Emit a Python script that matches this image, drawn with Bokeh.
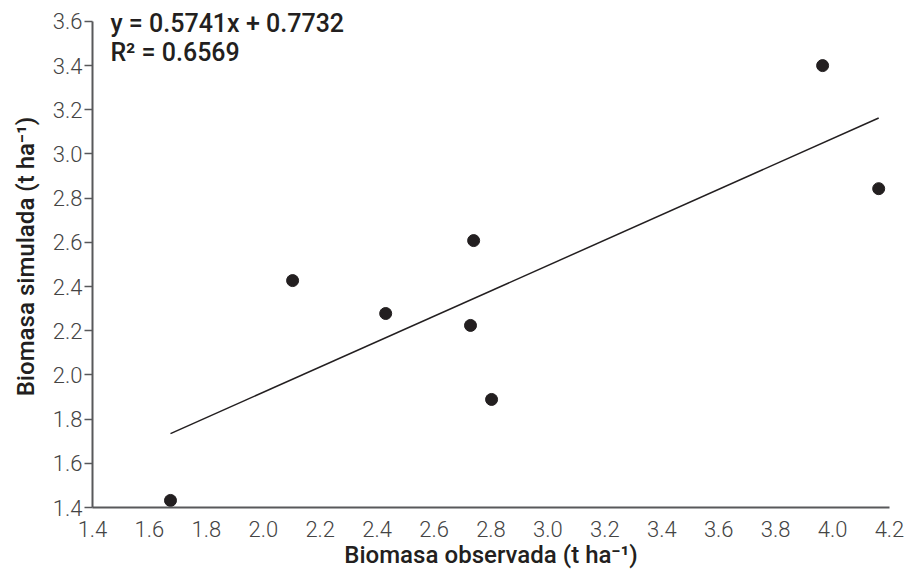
from bokeh.plotting import figure
from bokeh.models import Range1d, FixedTicker, PrintfTickFormatter, Label
from bokeh.embed import file_html
from bokeh.resources import INLINE

# Data
observada = [1.674, 2.103, 2.430, 2.739, 2.728, 2.802, 3.965, 4.162]
simulada = [1.432, 2.427, 2.278, 2.608, 2.224, 1.889, 3.400, 2.843]
slope = 0.5741
intercept = 0.7732
eq_text = "y = 0.5741x + 0.7732"
r2_text = "R² = 0.6569"
x_ticks = [1.4, 1.6, 1.8, 2.0, 2.2, 2.4, 2.6, 2.8, 3.0, 3.2, 3.4, 3.6, 3.8, 4.0, 4.2]
y_ticks = [1.4, 1.6, 1.8, 2.0, 2.2, 2.4, 2.6, 2.8, 3.0, 3.2, 3.4, 3.6]
x_title = "Biomasa observada (t ha⁻¹)"
y_title = "Biomasa simulada (t ha⁻¹)"

TICK_FONT = "'Roboto Light', Roboto"
TITLE_FONT = "'Roboto Medium', Roboto"

# headroom above the top tick so the equation text is not clipped
y_top = 3.672

p = figure(width=904, height=574, output_backend="svg", toolbar_location=None,
           x_range=Range1d(x_ticks[0], x_ticks[-1]), y_range=Range1d(y_ticks[0], y_top),
           min_border_left=92, min_border_right=15, min_border_top=5, min_border_bottom=67)
p.outline_line_color = None
p.grid.visible = False
p.background_fill_color = "white"

# trend line
x_line = [min(observada), max(observada)]
y_line = [slope * v + intercept for v in x_line]
p.line(x_line, y_line, line_color="#231f20", line_width=1.5)

p.scatter(observada, simulada, size=12, fill_color="#231f20", line_color="#231f20")

for ax in (p.xaxis[0], p.yaxis[0]):
    ax.axis_line_color = "#58595b"
    ax.axis_line_width = 2
    ax.major_tick_line_color = "#58595b"
    ax.major_tick_line_width = 1.5
    ax.minor_tick_line_color = None
    ax.major_label_text_font = TICK_FONT
    ax.major_label_text_font_size = "22px"
    ax.major_label_text_color = "#444444"
    ax.axis_label_text_font = TITLE_FONT
    ax.axis_label_text_font_size = "24px"
    ax.axis_label_text_font_style = "normal"
    ax.axis_label_text_color = "#231f20"
    ax.formatter = PrintfTickFormatter(format="%.1f")

p.xaxis.ticker = FixedTicker(ticks=x_ticks)
p.yaxis.ticker = FixedTicker(ticks=y_ticks)
p.yaxis.bounds = (y_ticks[0], y_ticks[-1])
p.xaxis.major_tick_line_color = None
p.xaxis.major_tick_out = 0
p.xaxis.major_tick_in = 0
p.xaxis.major_label_standoff = 13
p.xaxis.axis_label = x_title
p.xaxis.axis_label_standoff = 1
p.yaxis.major_tick_out = 8
p.yaxis.major_tick_in = 0
p.yaxis.major_label_standoff = 2
p.yaxis.axis_label = y_title
p.yaxis.axis_label_standoff = 10

p.add_layout(Label(x=1.463, y=3.59, text=eq_text, text_font=TITLE_FONT, text_font_style="bold",
                   text_font_size="25px", text_color="#231f20", text_baseline="middle"))
p.add_layout(Label(x=1.463, y=3.459, text=r2_text, text_font=TITLE_FONT, text_font_style="bold",
                   text_font_size="25px", text_color="#231f20", text_baseline="middle"))

open("out.html", "w").write(file_html(p, INLINE))
